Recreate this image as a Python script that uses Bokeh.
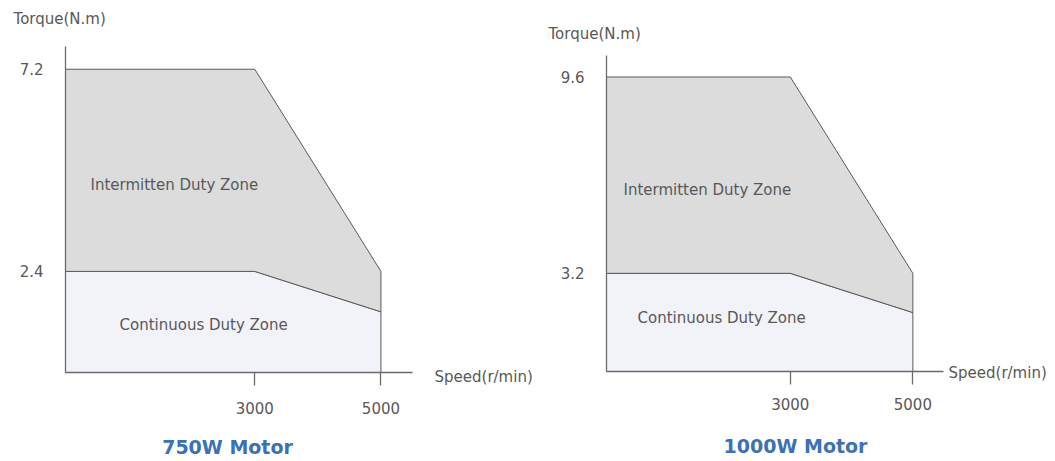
from bokeh.plotting import figure
from bokeh.layouts import row
from bokeh.models import Range1d, FixedTicker, Label
from bokeh.embed import file_html
from bokeh.resources import INLINE

# ---- data ----
speeds = [0, 3000, 5000]
speed_ticks = [3000, 5000]
speed_max = 5500

m750_peak = [7.2, 7.2, 2.4]
m750_rated = [2.4, 2.4, 1.44]
m750_ticks = [2.4, 7.2]
m750_top = 7.74

m1000_peak = [9.6, 9.6, 3.2]
m1000_rated = [3.2, 3.2, 1.92]
m1000_ticks = [3.2, 9.6]
m1000_top = 10.3

titles = ["750W Motor", "1000W Motor"]
zone_labels = ["Intermitten Duty Zone", "Continuous Duty Zone"]
y_label = "Torque(N.m)"
x_label = "Speed(r/min)"

FONT = "DejaVu Sans"
GREY = "#585858"
AXIS = "#6a6a6a"
BLUE = "#3b71b8"


def make_chart(peak, rated, yticks, y_top, title, width, xr, yr, opts):
    p = figure(width=width, height=461, output_backend="svg", toolbar_location=None,
               x_range=Range1d(*xr), y_range=Range1d(*yr),
               min_border_left=0, min_border_right=0,
               min_border_top=0, min_border_bottom=0)
    p.outline_line_color = None
    p.grid.visible = False
    p.background_fill_color = "white"
    p.border_fill_color = "white"

    # continuous zone
    cx = [speeds[0]] + speeds + [speeds[-1]]
    cy = [0] + rated + [0]
    p.patch(cx, cy, fill_color="#f2f3f8", line_color="#5a5a5a", line_width=1)
    # intermittent zone
    ix = speeds + speeds[::-1]
    iy = peak + rated[::-1]
    p.patch(ix, iy, fill_color="#dcdcdc", line_color="#5a5a5a", line_width=1)

    for ax in (p.xaxis[0], p.yaxis[0]):
        ax.fixed_location = 0
        ax.axis_line_color = AXIS
        ax.axis_line_width = 1.3
        ax.major_tick_line_color = AXIS
        ax.major_tick_line_width = 1.3
        ax.minor_tick_line_color = None
        ax.major_label_text_font = FONT
        ax.major_label_text_font_size = "15px"
        ax.major_label_text_color = GREY

    p.xaxis.bounds = (0, speed_max)
    p.xaxis.ticker = FixedTicker(ticks=speed_ticks)
    p.xaxis.major_tick_out = 13
    p.xaxis.major_tick_in = 0
    p.xaxis.major_label_standoff = opts["xstand"]

    p.yaxis.bounds = (0, y_top)
    p.yaxis.ticker = FixedTicker(ticks=yticks)
    p.yaxis.major_tick_out = 0
    p.yaxis.major_tick_in = 0
    p.yaxis.major_label_standoff = 22

    common = dict(text_font=FONT, text_font_size="15px", text_color=GREY,
                  text_baseline="middle")
    p.add_layout(Label(x=opts["ty"][0], y=opts["ty"][1], text=y_label, **common))
    p.add_layout(Label(x=opts["sx"][0], y=opts["sx"][1], text=x_label, **common))
    p.add_layout(Label(x=opts["iz"][0], y=opts["iz"][1], text=zone_labels[0], **common))
    p.add_layout(Label(x=opts["cz"][0], y=opts["cz"][1], text=zone_labels[1], **common))
    p.add_layout(Label(x=opts["tt"][0], y=opts["tt"][1], text=title,
                       text_font=FONT, text_font_size="19px", text_font_style="bold",
                       text_color=BLUE, text_align="center", text_baseline="middle"))
    return p


p1 = make_chart(m750_peak, m750_rated, m750_ticks, m750_top, titles[0], 540,
                (-1030.3, 7528.9), (-2.113, 8.832),
                dict(xstand=16, ty=(-824, 8.40), sx=(5849, -0.095),
                     iz=(396, 4.44), cz=(856, 1.116), tt=(2568, -1.76)))
p2 = make_chart(m1000_peak, m1000_rated, m1000_ticks, m1000_top, titles[1], 515,
                (-1077.1, 7327.9), (-2.933, 12.093),
                dict(xstand=13, ty=(-946.6, 11.017), sx=(5582, -0.033),
                     iz=(277, 5.93), cz=(506, 1.76), tt=(3085, -2.44)))

layout = row(p1, p2)
open("out.html", "w").write(file_html(layout, INLINE))
